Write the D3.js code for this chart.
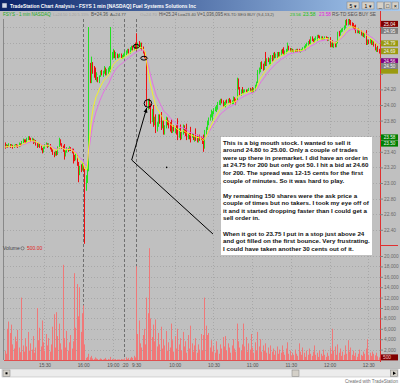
<!DOCTYPE html>
<html><head><meta charset="utf-8">
<script src="https://cdnjs.cloudflare.com/ajax/libs/d3/7.8.5/d3.min.js"></script>
<style>html,body{margin:0;padding:0;background:#fff;}svg{display:block;font-family:"Liberation Sans",Arial,sans-serif;}</style>
</head><body><svg id="c" width="400" height="384"></svg>
<script>
// ---------- DATA (1-min bars, FSYS) ----------
const opens = [
23.50,23.46,23.48,23.47,23.49,23.47,23.48,23.46,23.47,23.49,
23.48,23.47,23.50,23.49,23.52,23.55,23.54,23.53,23.56,23.58,
23.57,23.55,23.56,23.52,23.54,23.50,23.47,23.50,23.47,23.44,
23.40,23.45,23.48,23.50,23.47,23.49,23.45,23.42,23.38,23.36,
23.40,23.37,23.45,23.55,23.50,23.46,23.48,23.35,23.40,23.44,
23.42,23.45,23.43,23.42,23.35,23.30,23.36,23.25,23.12,23.20,
23.17,23.23,
23.15,22.95,23.05,23.20,24.50,24.30,24.50,24.45,
24.45,24.35,24.34,24.30,24.38,24.42,24.40,24.42,24.47,24.40,
24.44,24.46,24.45,24.62,24.65,24.66,24.62,24.64,24.62,24.63,
24.64,24.61,24.62,24.64,24.66,24.68,24.70,24.68,24.72,24.74,
24.72,24.76,
24.85,24.74,24.78,24.76,24.78,24.72,24.68,24.62,
24.60,24.00,24.05,24.00,23.82,23.95,23.78,23.85,23.68,23.74,
23.85,23.86,23.72,23.78,23.65,23.72,23.82,23.76,23.74,23.80,
23.66,23.70,23.68,23.70,23.80,23.60,23.66,23.58,23.64,23.72,
23.66,23.74,23.58,23.62,23.70,23.60,23.62,23.56,23.68,23.60,
23.54,23.58,23.58,23.56,23.60,23.46,23.65,23.70,23.78,23.82,
23.86,23.84,23.90,23.94,23.96,23.96,24.02,24.02,24.06,24.05,
24.00,24.00,24.05,24.04,24.06,24.05,24.03,24.02,24.09,24.07,
24.08,24.30,24.22,24.14,24.22,24.16,24.18,24.18,24.17,24.19,
24.21,24.18,24.22,24.17,24.20,24.25,24.30,24.42,24.44,24.52,
24.52,24.46,24.60,24.52,24.60,24.56,24.58,24.62,24.58,24.65,
24.62,24.64,24.66,24.64,24.64,24.70,24.72,24.66,24.69,24.70,
24.75,24.72,24.70,24.71,24.69,24.70,24.69,24.71,24.70,24.69,
24.70,24.71,24.73,24.72,24.77,24.78,24.81,24.80,24.86,24.84,
24.82,24.85,24.86,24.89,24.88,24.86,24.87,24.85,24.85,24.87,
24.86,24.84,24.86,24.76,24.82,24.75,24.80,24.75,24.80,24.92,
24.90,24.95,24.96,24.98,25.00,25.06,25.04,25.08,25.08,25.03,
25.02,25.00,25.02,24.94,24.96,24.93,24.95,24.90,24.91,24.88,
24.94,24.79,24.82,24.80,24.82,24.78,24.80,24.78,24.71,24.74,
24.69];
const highs = [
23.52,23.50,23.49,23.51,23.50,23.50,23.49,23.49,23.50,23.50,
23.49,23.52,23.51,23.54,23.57,23.56,23.56,23.58,23.60,23.60,
23.58,23.58,23.57,23.56,23.55,23.52,23.52,23.51,23.48,23.45,
23.47,23.50,23.52,23.51,23.51,23.50,23.46,23.43,23.40,23.42,
23.41,23.47,23.58,23.56,23.51,23.48,23.50,23.42,23.46,23.45,
23.47,23.46,23.44,23.44,23.36,23.38,23.37,23.27,23.22,23.24,
23.26,23.25,
23.18,23.10,23.25,25.00,24.54,24.62,24.55,24.50,
24.48,24.42,24.36,24.38,24.44,24.45,24.44,24.50,24.48,24.46,
24.48,24.50,25.00,24.68,24.72,24.70,24.68,24.66,24.65,24.66,
24.66,24.64,24.66,24.68,24.70,24.72,24.72,24.74,24.76,24.76,
24.78,24.80,
24.92,24.80,24.82,24.80,24.80,24.75,24.70,24.66,
24.62,24.08,24.08,24.02,23.95,24.00,23.85,23.88,23.78,23.88,
23.88,23.91,23.80,23.80,23.74,23.85,23.84,23.80,23.78,23.82,
23.72,23.74,23.72,23.74,23.83,23.70,23.75,23.66,23.75,23.74,
23.70,23.76,23.64,23.64,23.72,23.64,23.63,23.60,23.70,23.62,
23.60,23.62,23.60,23.58,23.62,23.68,23.72,23.80,23.84,23.88,
23.94,23.92,23.96,23.98,24.00,24.04,24.06,24.08,24.08,24.06,
24.04,24.06,24.07,24.08,24.09,24.07,24.06,24.11,24.10,24.08,
24.35,24.34,24.23,24.20,24.23,24.20,24.20,24.20,24.20,24.22,
24.22,24.21,24.23,24.22,24.26,24.30,24.45,24.48,24.55,24.56,
24.53,24.56,24.68,24.60,24.61,24.60,24.64,24.64,24.67,24.68,
24.66,24.68,24.68,24.68,24.71,24.72,24.74,24.70,24.72,24.80,
24.76,24.73,24.73,24.72,24.71,24.71,24.72,24.72,24.72,24.71,
24.72,24.74,24.76,24.78,24.80,24.82,24.84,24.88,24.88,24.85,
24.86,24.88,24.90,24.90,24.89,24.88,24.88,24.86,24.88,24.88,
24.87,24.87,24.87,24.80,24.83,24.79,24.81,24.82,24.94,24.95,
24.96,24.98,24.99,25.02,25.09,25.10,25.11,25.11,25.09,25.06,
25.05,25.02,25.03,24.98,24.98,24.96,24.96,24.93,24.93,24.92,
24.96,24.84,24.84,24.85,24.84,24.83,24.82,24.79,24.74,24.76,
24.72];
const lows = [
23.44,23.45,23.45,23.46,23.45,23.46,23.44,23.45,23.46,23.46,
23.45,23.46,23.47,23.48,23.51,23.52,23.51,23.52,23.55,23.55,
23.53,23.54,23.50,23.51,23.48,23.45,23.46,23.45,23.42,23.38,
23.39,23.44,23.47,23.45,23.46,23.43,23.40,23.36,23.33,23.35,
23.35,23.36,23.44,23.48,23.44,23.40,23.30,23.34,23.39,23.40,
23.41,23.41,23.38,23.25,23.28,23.29,23.22,23.01,23.10,23.14,
23.16,23.15,
22.22,22.90,23.00,23.15,24.28,24.28,24.40,24.35,
24.32,24.30,24.29,24.28,24.36,24.38,24.36,24.40,24.38,24.38,
24.40,24.42,24.42,24.58,24.60,24.60,24.58,24.60,24.60,24.61,
24.60,24.59,24.60,24.62,24.64,24.66,24.66,24.66,24.70,24.70,
24.70,24.72,
24.70,24.72,24.74,24.72,24.70,24.66,24.60,24.58,
23.98,23.94,23.95,23.76,23.78,23.72,23.74,23.64,23.66,23.72,
23.76,23.68,23.70,23.62,23.62,23.70,23.74,23.70,23.66,23.64,
23.64,23.66,23.64,23.62,23.55,23.58,23.55,23.56,23.62,23.64,
23.60,23.55,23.56,23.56,23.52,23.58,23.55,23.53,23.54,23.52,
23.52,23.54,23.55,23.50,23.40,23.44,23.62,23.68,23.74,23.80,
23.84,23.80,23.88,23.92,23.91,23.94,24.00,24.00,24.02,23.98,
23.98,23.97,24.02,24.02,24.03,24.01,24.01,24.01,24.04,24.00,
24.06,24.20,24.12,24.12,24.15,24.14,24.16,24.16,24.16,24.18,
24.17,24.16,24.16,24.16,24.18,24.23,24.28,24.40,24.42,24.46,
24.44,24.45,24.50,24.50,24.55,24.52,24.51,24.56,24.57,24.60,
24.60,24.60,24.62,24.62,24.63,24.66,24.64,24.64,24.66,24.68,
24.70,24.68,24.68,24.68,24.67,24.68,24.68,24.68,24.68,24.67,
24.68,24.70,24.71,24.70,24.75,24.76,24.78,24.78,24.82,24.80,
24.80,24.83,24.82,24.86,24.85,24.84,24.84,24.84,24.84,24.85,
24.82,24.82,24.74,24.74,24.74,24.73,24.74,24.74,24.79,24.88,
24.89,24.93,24.94,24.96,24.98,25.02,25.02,25.03,25.02,25.00,
24.98,24.96,24.92,24.92,24.92,24.91,24.89,24.88,24.87,24.86,
24.77,24.77,24.78,24.79,24.77,24.77,24.75,24.70,24.68,24.68,
24.66];
const closes = [
23.46,23.48,23.47,23.49,23.47,23.48,23.46,23.47,23.49,23.48,
23.47,23.50,23.49,23.52,23.55,23.54,23.53,23.56,23.58,23.57,
23.55,23.56,23.52,23.54,23.50,23.47,23.50,23.47,23.44,23.40,
23.45,23.48,23.50,23.47,23.49,23.45,23.42,23.38,23.36,23.40,
23.37,23.45,23.55,23.50,23.46,23.42,23.35,23.40,23.44,23.42,
23.45,23.43,23.40,23.35,23.30,23.36,23.25,23.12,23.20,23.17,
23.23,23.18,
22.95,23.05,23.20,24.40,24.42,24.55,24.45,24.40,
24.35,24.38,24.30,24.35,24.42,24.40,24.42,24.45,24.40,24.44,
24.46,24.48,24.62,24.65,24.68,24.62,24.66,24.62,24.63,24.64,
24.61,24.62,24.64,24.66,24.68,24.70,24.68,24.72,24.74,24.72,
24.76,24.75,
24.74,24.78,24.76,24.78,24.72,24.68,24.62,24.60,
24.02,24.05,23.98,23.80,23.90,23.78,23.82,23.68,23.75,23.85,
23.78,23.72,23.76,23.65,23.72,23.82,23.76,23.74,23.68,23.66,
23.70,23.68,23.70,23.64,23.60,23.66,23.58,23.64,23.72,23.66,
23.62,23.58,23.62,23.58,23.55,23.62,23.56,23.58,23.56,23.54,
23.58,23.56,23.56,23.52,23.44,23.65,23.70,23.78,23.82,23.86,
23.92,23.90,23.94,23.96,23.98,24.02,24.04,24.06,24.04,24.00,
24.02,24.05,24.04,24.06,24.05,24.03,24.05,24.09,24.06,24.02,
24.30,24.24,24.14,24.18,24.16,24.18,24.19,24.17,24.19,24.21,
24.18,24.20,24.17,24.21,24.25,24.28,24.42,24.46,24.52,24.50,
24.46,24.54,24.52,24.58,24.56,24.58,24.62,24.58,24.65,24.62,
24.64,24.66,24.64,24.67,24.70,24.68,24.66,24.69,24.70,24.75,
24.72,24.70,24.71,24.69,24.70,24.69,24.71,24.70,24.69,24.70,
24.71,24.73,24.74,24.77,24.79,24.81,24.80,24.86,24.84,24.82,
24.85,24.86,24.89,24.88,24.86,24.87,24.85,24.85,24.87,24.86,
24.84,24.85,24.76,24.78,24.75,24.77,24.75,24.80,24.92,24.90,
24.95,24.96,24.98,25.00,25.06,25.04,25.08,25.05,25.03,25.02,
25.00,24.98,24.94,24.96,24.93,24.94,24.90,24.91,24.88,24.90,
24.79,24.82,24.80,24.82,24.78,24.80,24.76,24.71,24.72,24.69,
24.68];
const volumes = [
1800,1200,6000,7400,5200,6800,3000,2200,4500,3600,
5800,2400,1500,12000,2800,1600,4200,2600,5400,1800,
3200,2000,4600,1400,2400,10000,3800,6200,2600,7600,
3400,1800,5000,2800,4200,1600,3000,6400,8800,2400,
9200,4600,7000,3200,2000,18300,4200,2400,5600,1800,
3400,4800,2200,3600,16700,6200,14600,8400,14000,5400,
9000,10500,
3000,400,600,1200,500,800,300,200,
500,300,200,100,300,200,100,200,400,100,
200,100,600,200,100,100,200,100,100,100,
200,100,100,300,500,200,400,300,600,400,
800,500,
18000,5000,7600,3200,2400,4800,6000,3000,
12000,9000,21500,8000,4400,6800,3600,7800,2600,5200,
3000,6400,2200,4000,2800,5600,1800,3400,2400,7000,
3800,1600,4600,2200,6000,3000,4200,1800,5400,2600,
3600,1400,4800,2200,6600,3200,1600,2800,4200,1400,
3000,2000,5000,1800,4800,12000,6600,4800,5200,2400,
3800,1600,2800,1400,3600,2000,1200,3000,2200,4400,
2600,4600,1800,3200,2400,1400,2800,4000,2200,1600,
7000,3600,2400,1800,3000,7000,2600,4400,1600,3200,
2000,5000,2400,1400,3400,1800,5400,2600,4000,1600,
2800,1800,3200,1400,2400,1200,2800,1600,2200,1000,
1800,2600,1200,2000,1400,2800,1600,1000,2200,3400,
1200,1800,800,1400,1000,2000,1200,800,3200,1600,
1000,2400,1400,600,1800,1000,2200,1200,800,1600,
2800,1000,1400,600,1800,1200,800,2000,1000,600,
1400,800,2400,1200,6000,1800,2600,1000,3000,1400,
2200,800,1600,1000,2800,1200,3800,1600,2400,1000,
1800,800,1400,600,1200,2000,1000,800,1600,1200,
2200,4000,1000,1400,800,1600,1200,900,1400,700,
500];
// time axis (bar index of each labelled minute)
const timeLabels = ["15:30","16:00","19:00",":20","9:30","10:00","10:30","11:00","11:30","12:00","12:30"];
const timeBars   = [31,61,84,93,102,132,162,192,222,252,282];
const sessionBreaks = [61,93,102];
const priceTicks = [22.4,22.6,22.8,23.0,23.2,23.4,23.6,23.8,24.0,24.2,24.4,24.6,24.8,25.0];
const hiddenPriceLabels = [23.6,24.4,24.6,24.8,25.0]; // covered by the value markers
const volTicks = [2000,4000,6000,8000,10000,12000,14000,16000,18000,20000];
// right-edge value markers
const markerValues = [24.44,25.04,24.95,24.79,24.69,24.56,24.50,23.585,23.505];
const markerLabels = ["","25.04","24.95","24.79","24.69","24.56","24.50","23.58","23.50"];
const markerColors = ["#9a9a10","#800000","#808080","#9a9a10","#9a9a10","#800080","#808080","#008000","#008000"];
const noteLines = [
"This is a big mouth stock.  I wanted to sell it",
"around 24.80 to 25.00. Only a couple of trades",
"were up there in premarket. I did have an order in",
"at 24.75 for 200 but only got 50.  I hit a bid at 24.60",
"for 200. The spread was 12-15 cents for the first",
"couple of minutes. So it was hard to play.",
"",
"My remaining 150 shares were the ask price a",
"couple of times but no takers. I took my eye off of",
"it and it started dropping faster than I could get a",
"sell order in.",
"",
"When it got to 23.75 I put in a stop just above 24",
"and got filled on the first bounce. Very frustrating.",
"I could have taken another 30 cents out of it."];

// ---------- SCALES ----------
const svg = d3.select("#c");
const x = d3.scaleLinear().domain([0, 290]).range([4.5, 378.6]);
const yP = d3.scaleLinear().domain([23, 25]).range([183, 27]);
const yV = d3.scaleLinear().domain([0, 20000]).range([360, 256]);
const AX = 380, TOP = 19, PB = 245, VB = 360;

// fit a text into a width by shrinking its font
function fitText(sel, maxW, baseSize){
  sel.attr("font-size", baseSize);
  const w = sel.node().getComputedTextLength();
  if (w > maxW) sel.attr("font-size", baseSize * maxW / w);
  return sel;
}

// ---------- FRAME ----------
svg.append("rect").attr("width",400).attr("height",384).attr("fill","#ffffff");
svg.append("rect").attr("x",0).attr("y",11).attr("width",400).attr("height",358).attr("fill","#c0c0c0");
const defs = svg.append("defs");
const g1 = defs.append("linearGradient").attr("id","tb");
g1.append("stop").attr("offset","0").attr("stop-color","#0a246a");
g1.append("stop").attr("offset","1").attr("stop-color","#a6caf0");
svg.append("rect").attr("x",0).attr("y",0).attr("width",400).attr("height",11).attr("fill","url(#tb)");
svg.append("rect").attr("x",2).attr("y",3).attr("width",5).attr("height",5).attr("fill","#d0d8e8").attr("stroke","#203060").attr("stroke-width",0.5);
fitText(svg.append("text").attr("x",10).attr("y",8).attr("font-weight","bold").attr("fill","#ffffff")
  .text("TradeStation Chart Analysis - FSYS 1 min [NASDAQ] Fuel Systems Solutions Inc"), 186, 5.2);
[[347,"5 \u25BE"],[362,"1 \u25BE"]].forEach(([bx,t])=>{
  svg.append("rect").attr("x",bx).attr("y",2).attr("width",12).attr("height",7).attr("fill","#d4d0c8").attr("stroke","#808080").attr("stroke-width",0.5);
  svg.append("text").attr("x",bx+6).attr("y",7.6).attr("text-anchor","middle").attr("font-size",5).attr("fill","#000").text(t);
});
[[377,"_"],[384.5,"\u25A1"],[392,"\u00D7"]].forEach(([bx,t])=>{
  svg.append("rect").attr("x",bx).attr("y",2).attr("width",6.5).attr("height",7).attr("fill","#d4d0c8").attr("stroke","#808080").attr("stroke-width",0.5);
  svg.append("text").attr("x",bx+3.25).attr("y",7.6).attr("text-anchor","middle").attr("font-size",5.5).attr("fill","#000").text(t);
});

// header status line
const hdr = [
 [3,48,"#22aa22","FSYS - 1 min NASDAQ"],
 [53,36,"#a0a0a0","L=24.50 1.20 5.15%"],
 [91,17,"#505050","B=24.36"],
 [110,16,"#505050","A=24.77"],
 [140,17,"#a0a0a0","O=24.70"],
 [159,18,"#505050","Hi=25.24"],
 [178,18,"#505050","Lo=23.40"],
 [197,26,"#505050","V=1,036,095"],
 [224,50,"#505050","RS-TD SEG BUY (9,4,13,2)"],
 [290,11,"#10c010","23.56"],
 [303,13,"#10c010","23.58"],
 [319,12,"#e020e0","23.58"],
 [332,44,"#505050","RS-TD SEG BUY SE"]];
hdr.forEach(([hx,w,c,t])=>fitText(svg.append("text").attr("x",hx).attr("y",16).attr("fill",c).text(t), w, 5));

// ---------- GRID ----------
const grid = svg.append("g");
grid.selectAll(".hp").data(priceTicks).join("line")
  .attr("x1",4).attr("x2",AX).attr("y1",d=>Math.round(yP(d))+0.5).attr("y2",d=>Math.round(yP(d))+0.5)
  .attr("stroke","#a8a8a8").attr("stroke-dasharray","1,2");
grid.selectAll(".hv").data(volTicks).join("line")
  .attr("x1",4).attr("x2",AX).attr("y1",d=>Math.round(yV(d))+0.5).attr("y2",d=>Math.round(yV(d))+0.5)
  .attr("stroke","#a8a8a8").attr("stroke-dasharray","1,2");
grid.selectAll(".vt").data(timeBars).join("line")
  .attr("x1",d=>Math.round(x(d))+0.5).attr("x2",d=>Math.round(x(d))+0.5).attr("y1",TOP).attr("y2",VB)
  .attr("stroke",d=>sessionBreaks.includes(d)?"#707070":"#a8a8a8")
  .attr("stroke-dasharray",d=>sessionBreaks.includes(d)?"3,2":"1,2");
svg.append("line").attr("x1",3.5).attr("x2",3.5).attr("y1",TOP).attr("y2",VB).attr("stroke","#888");

// ---------- VOLUME ----------
defs.append("clipPath").attr("id","cv").append("rect").attr("x",3).attr("y",PB+1).attr("width",AX-3).attr("height",VB-PB-1);
svg.append("g").attr("clip-path","url(#cv)").selectAll("line").data(volumes).join("line")
  .attr("x1",(d,i)=>Math.round(x(i))+0.5).attr("x2",(d,i)=>Math.round(x(i))+0.5)
  .attr("y1",yV(0)).attr("y2",d=>yV(d)).attr("stroke","#f07878").attr("stroke-width",1);
svg.append("line").attr("x1",4).attr("x2",AX).attr("y1",VB+0.5).attr("y2",VB+0.5).attr("stroke","#e05050");

// ---------- PRICE ----------
defs.append("clipPath").attr("id","cp").append("rect").attr("x",3).attr("y",TOP).attr("width",AX-3).attr("height",PB-TOP);
const pg = svg.append("g").attr("clip-path","url(#cp)");
const up = i => closes[i] >= opens[i];
pg.selectAll(".wick").data(closes).join("line")
  .attr("x1",(d,i)=>Math.round(x(i))+0.5).attr("x2",(d,i)=>Math.round(x(i))+0.5)
  .attr("y1",(d,i)=>yP(highs[i])).attr("y2",(d,i)=>yP(lows[i]))
  .attr("stroke",(d,i)=>up(i)?"#22e022":"#ee1010");
// indicator averages of the closes
function ema(arr, n){ const a = 2/(n+1); let e = arr[0]; return arr.map(v => (e = e + a*(v-e))); }
const fast = ema(closes, 10), slow = ema(closes, 16);
const line = d3.line().x((d,i)=>x(i)).y(d=>yP(d));
pg.append("path").datum(slow).attr("d",line).attr("fill","none").attr("stroke","#e66ee6").attr("stroke-width",1);
pg.append("path").datum(fast).attr("d",line).attr("fill","none").attr("stroke","#f2f22a").attr("stroke-width",1);

// ---------- AXES ----------
svg.append("line").attr("x1",AX+0.5).attr("x2",AX+0.5).attr("y1",11).attr("y2",362).attr("stroke","#e03030");
svg.append("line").attr("x1",AX).attr("x2",398).attr("y1",PB+0.5).attr("y2",PB+0.5).attr("stroke","#e03030");
const pAx = svg.append("g").attr("transform",`translate(${AX},0)`)
  .call(d3.axisRight(yP).tickValues(priceTicks).tickSize(3).tickPadding(1)
    .tickFormat(d=>hiddenPriceLabels.some(h=>Math.abs(h-d)<1e-6)?"":d3.format(".2f")(d)));
const vAx = svg.append("g").attr("transform",`translate(${AX},0)`)
  .call(d3.axisRight(yV).tickValues(volTicks).tickSize(3).tickPadding(1).tickFormat(d3.format(",")));
[pAx,vAx].forEach(a=>{a.select(".domain").remove();
  a.selectAll("line").attr("stroke","#808080");
  a.selectAll("text").attr("font-size",4.8).attr("fill","#6a6a6a").attr("font-family","Liberation Sans, Arial, sans-serif");});
const tAx = svg.append("g").attr("transform",`translate(0,${VB+2})`)
  .call(d3.axisBottom(x).tickValues(timeBars).tickSize(0).tickPadding(2).tickFormat((d,i)=>timeLabels[i]));
tAx.select(".domain").remove();
tAx.selectAll("text").attr("font-size",4.8).attr("fill","#505050").attr("font-family","Liberation Sans, Arial, sans-serif");

// value markers
markerValues.forEach((v,i)=>{
  const my = yP(v);
  svg.append("rect").attr("x",AX+1).attr("y",my-3).attr("width",17).attr("height",6).attr("fill",markerColors[i]);
  if (markerLabels[i]) svg.append("text").attr("x",AX+9.5).attr("y",my+1.8).attr("text-anchor","middle").attr("font-size",4.6)
    .attr("fill","#f4f4f4").text(markerLabels[i]);
});
svg.append("rect").attr("x",AX+1).attr("y",yV(500)-3).attr("width",17).attr("height",6).attr("fill","#800000");
svg.append("text").attr("x",AX+3).attr("y",yV(500)+1.8).attr("font-size",4.8).attr("fill","#f4c0c0").text("500");

// volume label
svg.append("text").attr("x",3).attr("y",250).attr("font-size",5).attr("fill","#404040").text("Volume");
svg.append("circle").attr("cx",22.5).attr("cy",248.3).attr("r",1.6).attr("fill","none").attr("stroke","#404040").attr("stroke-width",0.5);
svg.append("text").attr("x",27).attr("y",250).attr("font-size",5).attr("fill","#e02020").text("500.00");

// ---------- ANNOTATIONS ----------
defs.append("marker").attr("id","ah").attr("viewBox","0 0 10 10").attr("refX",9).attr("refY",5)
  .attr("markerWidth",5).attr("markerHeight",5).attr("orient","auto")
  .append("path").attr("d","M0,1L10,5L0,9z").attr("fill","#000");
const ann = svg.append("g").attr("fill","none").attr("stroke","#000").attr("stroke-width",1);
ann.append("ellipse").attr("cx",x(102.2)).attr("cy",yP(24.753)).attr("rx",3).attr("ry",1.9);
ann.append("ellipse").attr("cx",x(108.1)).attr("cy",yP(24.60)).attr("rx",3.2).attr("ry",1.9);
ann.append("ellipse").attr("cx",x(111.2)).attr("cy",yP(24.02)).attr("rx",3.8).attr("ry",3.8);
ann.append("path").attr("d",d3.line()([[x(161.6),yP(22.346)],[x(98.6),yP(23.295)],[x(110.2),yP(23.96)]]))
  .attr("marker-end","url(#ah)");
svg.append("circle").attr("cx",x(125.7)).attr("cy",yP(23.2)).attr("r",0.8).attr("fill","#000");

// note box
svg.append("rect").attr("x",221).attr("y",137).attr("width",151).attr("height",118).attr("fill","#ffffff");
const nt = svg.append("text").attr("font-size",6.2).attr("font-weight","bold").attr("fill","#111");
noteLines.forEach((t,i)=>nt.append("tspan").attr("x",223).attr("y",144.8+i*7.56).text(t));

// ---------- SCROLLBAR / FOOTER ----------
svg.append("rect").attr("x",2).attr("y",369).attr("width",396).attr("height",8).attr("fill","#ececec").attr("stroke","#b0b0b0").attr("stroke-width",0.5);
svg.append("rect").attr("x",3).attr("y",370).attr("width",7).attr("height",6.5).attr("fill","#d4d0c8").attr("stroke","#808080").attr("stroke-width",0.5);
svg.append("rect").attr("x",5.5).attr("y",372.3).attr("width",2).attr("height",2).attr("fill","#000");
svg.append("rect").attr("x",292).attr("y",370).attr("width",7).attr("height",6.5).attr("fill","#d4d0c8").attr("stroke","#808080").attr("stroke-width",0.5);
svg.append("rect").attr("x",390.5).attr("y",370).attr("width",7).attr("height",6.5).attr("fill","#d4d0c8").attr("stroke","#808080").attr("stroke-width",0.5);
svg.append("path").attr("d","M393,371.5L396,373.2L393,375z").attr("fill","#000");
svg.append("text").attr("x",398).attr("y",383).attr("text-anchor","end").attr("font-size",4.6).attr("fill","#707070").text("Created with TradeStation");
</script></body></html>
